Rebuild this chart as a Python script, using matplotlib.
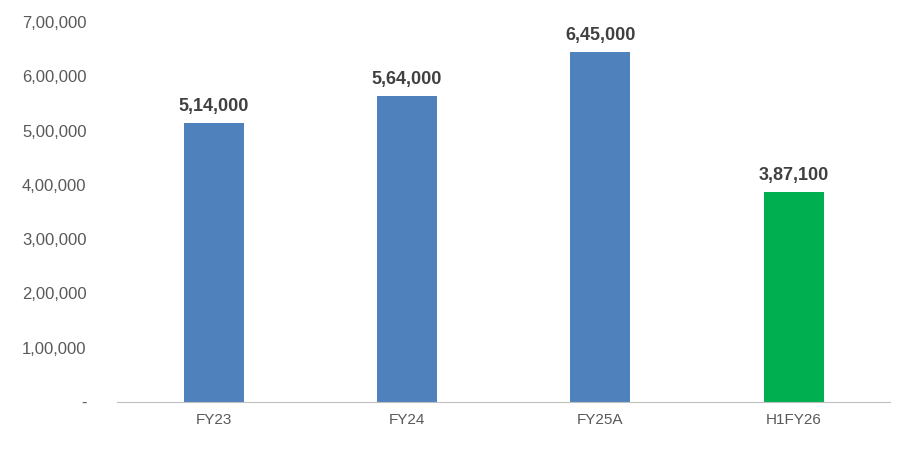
import matplotlib
matplotlib.use("Agg")
import matplotlib.pyplot as plt
from matplotlib.ticker import FuncFormatter

categories = ["FY23", "FY24", "FY25A", "H1FY26"]
values = [514000, 564000, 645000, 387100]
colors = ["#4F81BD", "#4F81BD", "#4F81BD", "#00B050"]


def indian(v):
    # 1,00,000 style grouping
    v = int(round(v))
    if v == 0:
        return "-"
    s = str(v)
    last3, rest = s[-3:], s[:-3]
    parts = []
    while len(rest) > 2:
        parts.insert(0, rest[-2:])
        rest = rest[:-2]
    if rest:
        parts.insert(0, rest)
    return ",".join(parts + [last3])


plt.rcParams['font.family'] = ['Liberation Sans', 'DejaVu Sans']
fig = plt.figure(figsize=(9.15, 4.5), dpi=100)
ax = fig.add_axes([0.128, 0.107, 0.845, 0.844])

x = range(len(categories))
ax.bar(x, values, width=0.31, color=colors)
for i, v in zip(x, values):
    ax.text(i, v + 15000, indian(v), ha="center", va="bottom",
            fontsize=13, fontweight="bold", color="#404040")

ax.set_ylim(0, 700000)
ax.set_xlim(-0.5, len(categories) - 0.5)
ax.set_yticks(range(0, 700001, 100000))
ax.yaxis.set_major_formatter(FuncFormatter(lambda v, p: indian(v)))
ax.set_xticks(list(x))
ax.set_xticklabels(categories)
ax.tick_params(axis="y", length=0, labelsize=12, labelcolor="#595959", pad=22)
ax.tick_params(axis="x", length=0, labelsize=11, labelcolor="#595959", pad=8)
for s in ["top", "right", "left"]:
    ax.spines[s].set_visible(False)
ax.spines["bottom"].set_color("#BFBFBF")

fig.savefig("out.png", dpi=100)
